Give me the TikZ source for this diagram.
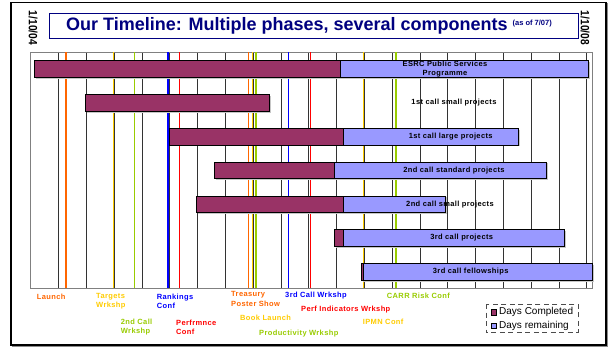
\documentclass[tikz,border=0pt]{standalone}
\usepackage{fontspec}
\setmainfont{Liberation Sans}
\newfontfamily\lblfont[LetterSpace=5]{Liberation Sans}
\usetikzlibrary{shadows}

\definecolor{plum}{RGB}{153,51,102}
\definecolor{lavend}{RGB}{153,153,255}
\definecolor{navy}{RGB}{0,0,128}
\definecolor{evorange}{RGB}{255,102,0}
\definecolor{evgold}{RGB}{255,204,0}
\definecolor{evlime}{RGB}{153,204,0}
\definecolor{evblue}{RGB}{0,0,255}
\definecolor{evred}{RGB}{255,0,0}

\tikzset{
  done/.style={draw=black, line width=0.7pt, fill=plum,
    drop shadow={shadow xshift=1.3pt, shadow yshift=-1.3pt, fill=black!22, opacity=1}},
  todo/.style={draw=black, line width=0.7pt, fill=lavend,
    drop shadow={shadow xshift=1.3pt, shadow yshift=-1.3pt, fill=black!22, opacity=1}},
  gridline/.style={draw=black!80, line width=0.8pt},
  evline/.style={line width=1.4pt},
  barlbl/.style={font=\lblfont\bfseries\fontsize{7.5}{9}\selectfont, inner sep=0pt, align=center},
  evlbl/.style={font=\lblfont\bfseries\fontsize{7.5}{9.3}\selectfont, inner sep=0pt, anchor=west, align=left},
}

\begin{document}
\begin{tikzpicture}[x=1pt,y=-1pt]
\useasboundingbox (0,0) rectangle (609,349);
\fill[white] (0,0) rectangle (609,349);

% outer frame
\draw[black!45, line width=1.3pt] (12.5,3.5) rectangle (607.5,346.5);
\draw[black, line width=1.3pt, fill=white] (11,2.5) rectangle (606,345);

% title
\draw[navy, line width=0.8pt] (49,13) rectangle (578,38);
\node[navy, font=\bfseries\fontsize{18}{20}\selectfont, inner sep=0pt] (title) at (309,25.5)
  {Our Timeline: Multiple phases, several components\ \raisebox{5pt}{\fontsize{7.5}{8}\selectfont (as of 7/07)}};

% start and end dates
\node[rotate=-90, font=\bfseries\fontsize{12}{12}\selectfont, inner sep=0pt] (dstart) at (33,28) {\scalebox{0.85}[1]{1/10/04}};
\node[rotate=-90, font=\bfseries\fontsize{12}{12}\selectfont, inner sep=0pt] (dend) at (585,28) {\scalebox{0.85}[1]{1/10/08}};

% grid
\foreach \k in {1,...,20}
  \draw[gridline] ({30.7+27.8*\k},52) -- ({30.7+27.8*\k},288);
\draw[black!50, line width=1pt] (30.7,52) rectangle (592,288);

% events
\draw[evline, evorange] (66,52) -- (66,288);
\draw[evline, evgold] (113.3,52) -- (113.3,288);
\draw[evline, evlime] (134.7,52) -- (134.7,288);
\draw[evline, evblue] (168,52) -- (168,288);
\draw[evline, evred] (179.3,52) -- (179.3,288);
\draw[evline, evorange] (248.7,52) -- (248.7,288);
\draw[evline, evgold] (252.3,52) -- (252.3,288);
\draw[evline, evlime] (256,52) -- (256,288);
\draw[evline, evblue] (288.7,52) -- (288.7,288);
\draw[evline, evred] (310.7,52) -- (310.7,288);
\draw[evline, evgold] (363.3,52) -- (363.3,288);
\draw[evline, evlime] (396,52) -- (396,288);

% bars
\draw[done] (34.7,60.7) rectangle (340,77.4);
\draw[todo] (340,60.7) rectangle (588.7,77.4);
\node[barlbl] (esrc) at (445,69.5) {ESRC Public Services\\Programme};

\draw[done] (85.7,94.5) rectangle (269.3,111.2);
\node[barlbl] (smallone) at (454,102.9) {1st call small projects};

\draw[done] (169.3,128.3) rectangle (343.3,145);
\draw[todo] (343.3,128.3) rectangle (518.7,145);
\node[barlbl] (largeone) at (450.7,136.7) {1st call large projects};

\draw[done] (214.3,162.1) rectangle (334.3,178.8);
\draw[todo] (334.3,162.1) rectangle (546.7,178.8);
\node[barlbl] (stdtwo) at (454,170.5) {2nd call standard projects};

\draw[done] (196.3,195.9) rectangle (343.7,212.6);
\draw[todo] (343.7,195.9) rectangle (445.3,212.6);
\node[barlbl] (smalltwo) at (450,204.3) {2nd call small projects};

\draw[done] (334.3,229.7) rectangle (343.3,246.4);
\draw[todo] (343.3,229.7) rectangle (564.3,246.4);
\node[barlbl] (projthree) at (461.7,238) {3rd call projects};

\draw[done] (361.8,263.5) rectangle (363.3,280.2);
\draw[todo] (363.3,263.5) rectangle (592.3,280.2);
\node[barlbl] (fellthree) at (470.7,271.9) {3rd call fellowships};

% event labels
\node[evlbl, evorange] (launch) at (36.7,296.7) {Launch};
\node[evlbl, evgold] (targets) at (96,301.3) {Targets\\Wrkshp};
\node[evlbl, evlime] (calltwo) at (120.7,326.7) {2nd Call\\Wrkshp};
\node[evlbl, evblue] (rankings) at (156.7,301.3) {Rankings\\Conf};
\node[evlbl, evred] (perfconf) at (176,327.3) {Perfrmnce\\Conf};
\node[evlbl, evorange] (treasury) at (231,299) {Treasury\\Poster Show};
\node[evlbl, evblue] (callthree) at (285,296) {3rd Call Wrkshp};
\node[evlbl, evgold] (book) at (240,318.3) {Book Launch};
\node[evlbl, evred] (perfind) at (301,309.3) {Perf Indicators Wrkshp};
\node[evlbl, evlime] (product) at (259,333.3) {Productivity Wrkshp};
\node[evlbl, evgold] (ipmn) at (362.7,322.3) {IPMN Conf};
\node[evlbl, evlime] (carr) at (386.7,296) {CARR Risk Conf};

% legend
\draw[black!70, line width=1pt, dash pattern=on 5pt off 3.5pt] (486,304) rectangle (578,332.7);
\draw[fill=plum, line width=0.6pt] (491.3,309.6) rectangle (496.7,315);
\node[font=\fontsize{10}{11}\selectfont, inner sep=0pt, anchor=west] (keydone) at (499,312.3) {Days Completed};
\draw[fill=lavend, line width=0.6pt] (491.3,323) rectangle (496.7,328.4);
\node[font=\fontsize{10}{11}\selectfont, inner sep=0pt, anchor=west] (keytodo) at (499,325.7) {Days remaining};
\end{tikzpicture}
\end{document}
